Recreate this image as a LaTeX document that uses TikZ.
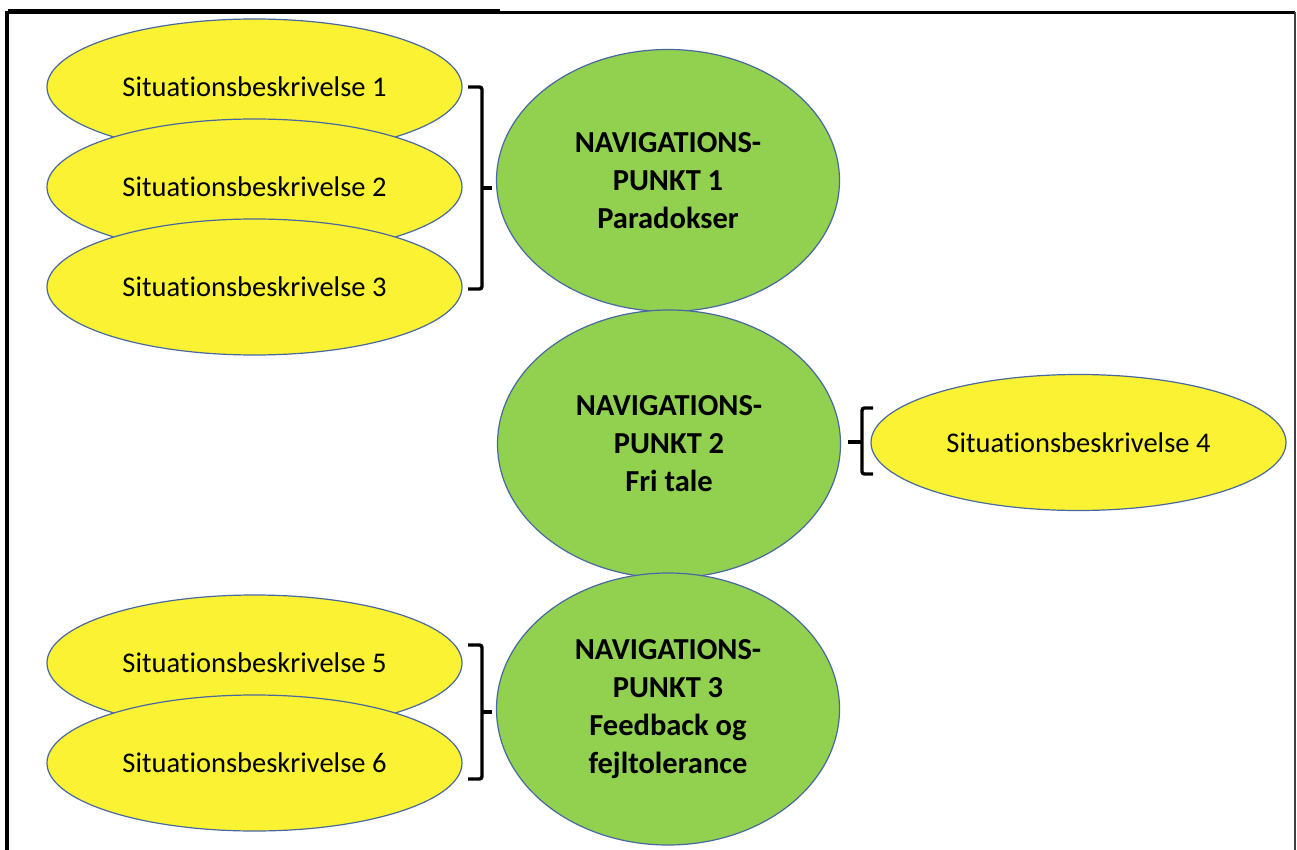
\documentclass[tikz,border=0pt]{standalone}
\usepackage{fontspec}
\setmainfont{Carlito}[Ligatures=NoCommon]
\usetikzlibrary{shapes.geometric}
\definecolor{sityellow}{RGB}{250,242,50}
\definecolor{navgreen}{RGB}{146,208,80}
\definecolor{edgeblue}{RGB}{72,105,160}
\tikzset{
  sit/.style={ellipse, draw=edgeblue, line width=1.2pt, fill=sityellow, inner sep=0pt,
    minimum width=415pt, minimum height=136pt, font=\fontsize{28.5}{34}\selectfont},
  nav/.style={ellipse, draw=edgeblue, line width=1.2pt, fill=navgreen, inner sep=0pt,
    minimum width=343pt, align=center, font=\fontsize{30.5}{38}\bfseries\selectfont},
  brace/.style={line width=3.4pt, rounded corners=2.5pt},
  frame/.style={line width=3.2pt}
}
\begin{document}
\begin{tikzpicture}[x=1pt,y=-1pt]
\useasboundingbox (0,0) rectangle (1297,850);
% caption underline and frame
\coordinate (ul1) at (8,10);
\coordinate (ul2) at (500,10);
\draw[line width=1.6pt] (ul1) -- (ul2);
\coordinate (f1) at (7,860);
\coordinate (f2) at (7,12.5);
\coordinate (f3) at (1294.5,12.5);
\coordinate (f4) at (1294.5,860);
\draw[frame] (f1) -- (f2) -- (f3);
\draw[line width=2pt, black!75] (f3) -- (f4);
% yellow ellipses, left top group
\node[sit] (s1) at (254.5,87) {Situationsbeskrivelse 1};
\node[sit] (s2) at (254.5,187) {Situationsbeskrivelse 2};
\node[sit] (s3) at (254.5,287) {Situationsbeskrivelse 3};
% green ellipses
\node[nav, minimum height=262pt] (n1) at (668,180.5) {NAVIGATIONS-\\PUNKT 1\\Paradokser};
\node[nav, minimum height=268pt] (n2) at (669,444) {NAVIGATIONS-\\PUNKT 2\\Fri tale};
\node[nav, minimum height=272pt] (n3) at (668,709) {NAVIGATIONS-\\PUNKT 3\\Feedback og\\fejltolerance};
% right ellipse
\node[sit] (s4) at (1078.5,442.5) {Situationsbeskrivelse 4};
% bottom group
\node[sit] (s5) at (254.5,663) {Situationsbeskrivelse 5};
\node[sit] (s6) at (254.5,763) {Situationsbeskrivelse 6};
% braces
\coordinate (b1a) at (468,87);
\coordinate (b1b) at (482,87);
\coordinate (b1m) at (482,188);
\coordinate (b1n) at (492,188);
\coordinate (b1c) at (482,289);
\coordinate (b1d) at (468,289);
\draw[brace] (b1a) -- (b1b) -- (b1m) -- (b1c) -- (b1d);
\draw[line width=3.4pt] (b1m) -- (b1n);
\coordinate (b2a) at (873,408);
\coordinate (b2b) at (862,408);
\coordinate (b2m) at (862,442);
\coordinate (b2n) at (848,442);
\coordinate (b2c) at (862,474);
\coordinate (b2d) at (873,474);
\draw[brace] (b2a) -- (b2b) -- (b2m) -- (b2c) -- (b2d);
\draw[line width=3.4pt] (b2m) -- (b2n);
\coordinate (b3a) at (468,645);
\coordinate (b3b) at (482,645);
\coordinate (b3m) at (482,712);
\coordinate (b3n) at (492,712);
\coordinate (b3c) at (482,779);
\coordinate (b3d) at (468,779);
\draw[brace] (b3a) -- (b3b) -- (b3m) -- (b3c) -- (b3d);
\draw[line width=3.4pt] (b3m) -- (b3n);
\end{tikzpicture}
\end{document}
